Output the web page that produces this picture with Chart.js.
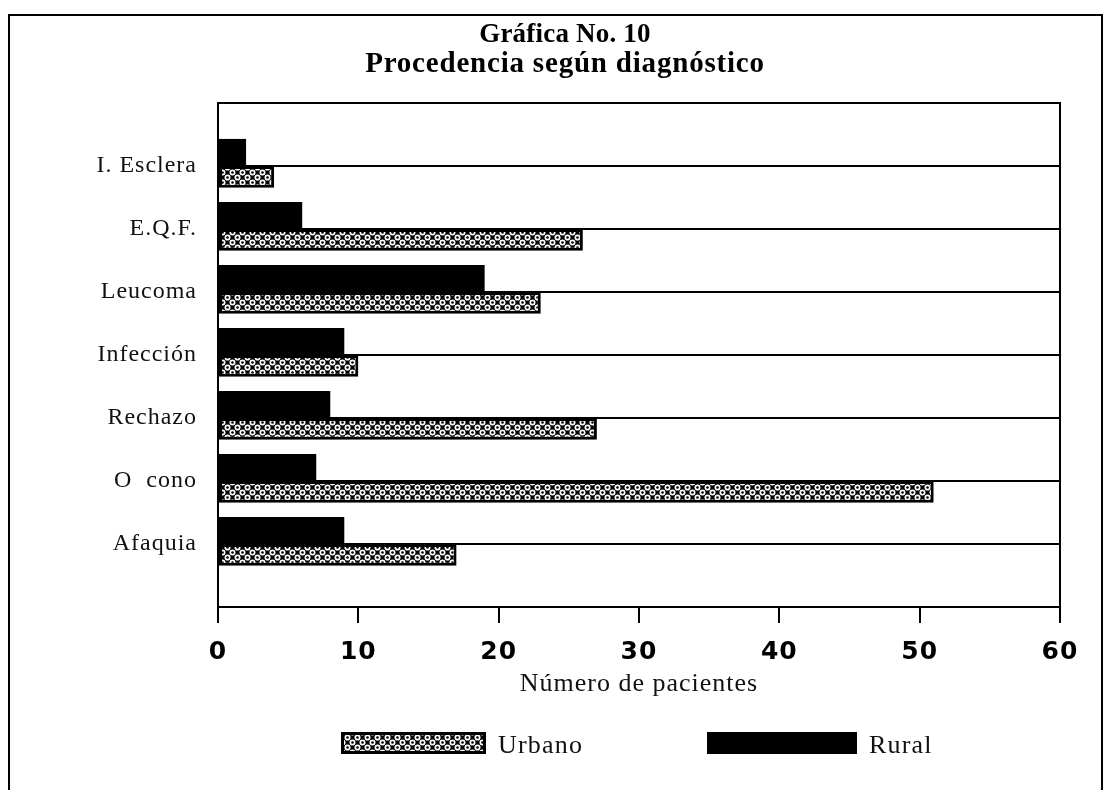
<!DOCTYPE html>
<html>
<head>
<meta charset="utf-8">
<script src="https://cdn.jsdelivr.net/npm/chart.js@4.4.1/dist/chart.umd.min.js"></script>
<style>
  html, body { margin: 0; padding: 0; background: #fff; }
  .page { position: relative; width: 1109px; height: 790px; overflow: hidden; }
  .frame {
    position: absolute; left: 8px; top: 14px; width: 1091px; height: 800px;
    border: 2px solid #000; border-bottom: none;
  }
  canvas { position: absolute; left: 0; top: 0; }
  .title {
    position: absolute; left: 21px; width: 1088px; text-align: center;
    font-family: 'Liberation Serif', 'DejaVu Serif', serif; font-weight: bold; color: #000;
    white-space: nowrap;
  }
  .t1 { top: 20px; font-size: 27px; line-height: 27px; letter-spacing: 0.2px; }
  .t2 { top: 48px; font-size: 29px; line-height: 29px; letter-spacing: 0.8px; }
</style>
</head>
<body>
<div class="page">
  <div class="frame"></div>
  <canvas id="myChart" width="1109" height="790"></canvas>
  <div class="title t1" id="title1"></div>
  <div class="title t2" id="title2"></div>
</div>
<script>
// data
const categories = ["I. Esclera", "E.Q.F.", "Leucoma", "Infección", "Rechazo", "O  cono", "Afaquia"];
const ruralValues = [2, 6, 19, 9, 8, 7, 9];
const urbanoValues = [4, 26, 23, 10, 27, 51, 17];
const xTickValues = [0, 10, 20, 30, 40, 50, 60];
const seriesNames = ["Rural", "Urbano"];
const titleLines = ["Gráfica No. 10", "Procedencia según diagnóstico"];
const xAxisTitle = "Número de pacientes";

document.getElementById("title1").textContent = titleLines[0];
document.getElementById("title2").textContent = titleLines[1];

const serif = "'Liberation Serif', 'DejaVu Serif', serif";

// dotted screen used for the urban bars
const makePattern = () => {
  const tile = document.createElement("canvas");
  tile.width = 10;
  tile.height = 10;
  const t = tile.getContext("2d");
  t.fillStyle = "#000";
  t.fillRect(0, 0, 10, 10);
  const centers = [[2.5, 2.5], [7.5, 7.5], [12.5, 2.5], [-2.5, 7.5], [2.5, 12.5], [-2.5, -2.5], [7.5, -2.5], [12.5, 12.5]];
  t.fillStyle = "#fff";
  centers.forEach(([cx, cy]) => {
    t.beginPath();
    t.arc(cx, cy, 3.0, 0, Math.PI * 2);
    t.fill();
  });
  t.fillStyle = "#000";
  centers.forEach(([cx, cy]) => {
    t.beginPath();
    t.arc(cx, cy, 1.3, 0, Math.PI * 2);
    t.fill();
  });
  return document.createElement("canvas").getContext("2d").createPattern(tile, "repeat");
};
const urbanoPattern = makePattern();

// one empty band above and below the categories, like the original
const yLabels = ["", ...categories, ""];
const pad = (arr) => [null, ...arr, null];

// the original lettering is a little tracked out
const tracking = {
  id: "tracking",
  beforeDraw(chart) { chart.ctx.letterSpacing = "1px"; },
  afterDraw(chart) { chart.ctx.letterSpacing = "0px"; }
};

// box around the plot area
const plotBox = {
  id: "plotBox",
  afterDatasetsDraw(chart) {
    const { ctx, chartArea: a } = chart;
    ctx.save();
    ctx.strokeStyle = "#000";
    ctx.lineWidth = 2;
    ctx.strokeRect(a.left, a.top, a.right - a.left, a.bottom - a.top);
    ctx.restore();
  }
};

// legend drawn by hand: Urbano first, wide swatches far apart
const legendSpots = [
  { ds: 1, x: 341, w: 145 },
  { ds: 0, x: 707, w: 150 }
];
const bottomLegend = {
  id: "bottomLegend",
  afterDraw(chart) {
    const ctx = chart.ctx;
    const top = chart.chartArea.bottom + 125;
    const h = 22;
    ctx.save();
    ctx.letterSpacing = "1.2px";
    legendSpots.forEach((spot) => {
      const ds = chart.data.datasets[spot.ds];
      ctx.fillStyle = ds.backgroundColor;
      ctx.fillRect(spot.x, top, spot.w, h);
      ctx.strokeStyle = "#000";
      ctx.lineWidth = 3;
      ctx.strokeRect(spot.x + 1.5, top + 1.5, spot.w - 3, h - 3);
      ctx.fillStyle = "#111";
      ctx.font = "26px " + serif;
      ctx.textBaseline = "alphabetic";
      ctx.textAlign = "left";
      ctx.fillText(ds.label, spot.x + spot.w + 12, top + h - 1);
    });
    ctx.restore();
  }
};

const ctx = document.getElementById("myChart").getContext("2d");
const myChart = new Chart(ctx, {
  type: "bar",
  data: {
    labels: yLabels,
    datasets: [
      {
        label: seriesNames[0],
        data: pad(ruralValues),
        backgroundColor: "#000",
        borderWidth: 0,
        categoryPercentage: 0.86,
        barPercentage: 1
      },
      {
        label: seriesNames[1],
        data: pad(urbanoValues),
        backgroundColor: urbanoPattern,
        borderColor: "#000",
        borderWidth: 3,
        borderSkipped: false,
        categoryPercentage: 0.69,
        barPercentage: 1
      }
    ]
  },
  options: {
    indexAxis: "y",
    responsive: false,
    devicePixelRatio: 1,
    animation: false,
    layout: { padding: { left: 20, right: 49, top: 103, bottom: 83 } },
    plugins: {
      legend: { display: false },
      tooltip: { enabled: false },
      title: { display: false }
    },
    scales: {
      x: {
        min: 0,
        max: 60,
        afterBuildTicks: (scale) => {
          scale.ticks = xTickValues.map((v) => ({ value: v }));
        },
        afterFit: (scale) => { scale.height = 100; },
        border: { display: false },
        grid: {
          drawOnChartArea: false,
          drawTicks: true,
          tickLength: 16,
          color: "#000",
          lineWidth: 2
        },
        ticks: {
          color: "#000",
          padding: 14,
          maxRotation: 0,
          font: { family: "'DejaVu Sans', sans-serif", size: 25, weight: "bold" }
        },
        title: {
          display: true,
          text: xAxisTitle,
          color: "#111",
          font: { family: serif, size: 26 },
          padding: { top: 0, bottom: 7 }
        }
      },
      y: {
        offset: false,
        afterFit: (scale) => { scale.width = 198; },
        border: { display: false },
        grid: {
          offset: false,
          drawTicks: false,
          color: "#000",
          lineWidth: 2
        },
        ticks: {
          color: "#111",
          padding: 21,
          font: { family: serif, size: 24 }
        }
      }
    }
  },
  plugins: [tracking, plotBox, bottomLegend]
});
</script>
</body>
</html>
